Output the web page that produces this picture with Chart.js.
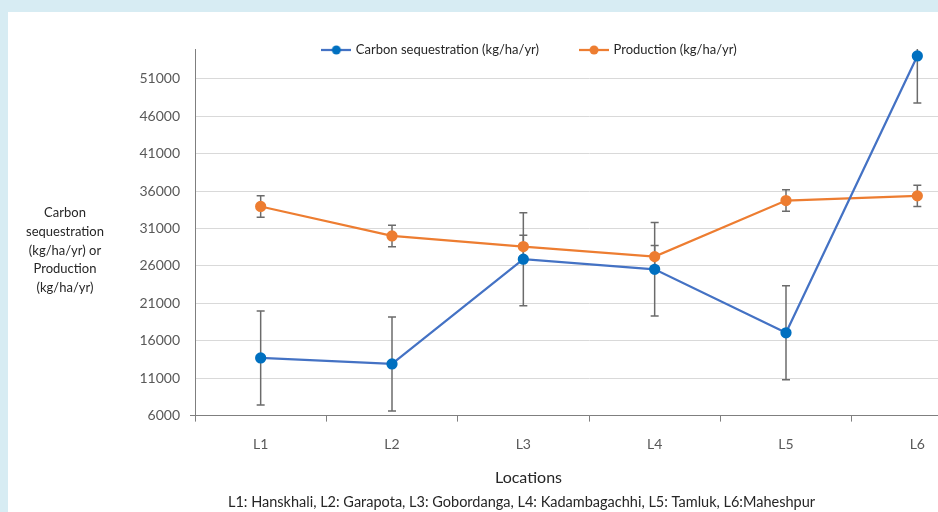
<!DOCTYPE html>
<html><head><meta charset="utf-8">
<script src="https://cdn.jsdelivr.net/npm/chart.js@4.4.1/dist/chart.umd.min.js"></script>
<style>
html,body{margin:0;padding:0;width:938px;height:512px;overflow:hidden;background:#d7ecf3;}
#panel{position:absolute;left:8px;top:12px;width:1100px;height:500px;background:#ffffff;}
#c{position:absolute;left:0;top:0;}
</style></head><body>
<div id="panel"><canvas id="c" width="1048" height="500"></canvas></div>
<script>
const locations = ['L1', 'L2', 'L3', 'L4', 'L5', 'L6'];
const carbonSeq = [13700, 12900, 26900, 25550, 17070, 54070];
const carbonErr = [6280, 6270, 6220, 6250, 6270, 6300];
const production = [33950, 30010, 28590, 27250, 34750, 35370];
const productionErr = [1450, 1430, 1500, 1500, 1450, 1420];
const yTicks = [6000, 11000, 16000, 21000, 26000, 31000, 36000, 41000, 46000, 51000];
const seriesNames = ['Carbon sequestration (kg/ha/yr)', 'Production (kg/ha/yr)'];
const yTitleLines = ['Carbon', 'sequestration', '(kg/ha/yr) or', 'Production', '(kg/ha/yr)'];
const xTitle = 'Locations';
const footnote = 'L1: Hanskhali, L2: Garapota, L3: Gobordanga, L4: Kadambagachhi, L5: Tamluk, L6:Maheshpur';

const BLUE_LINE = '#4472c4', BLUE_DOT = '#0070c0', ORANGE = '#ed7d31';
const AXIS = '#7f7f7f', GRID = '#d9d9d9', TEXT = '#595959', DARK = '#262626';

function makeMarker(lineColor, dotColor) {
  const c = document.createElement('canvas');
  c.width = 30; c.height = 10;
  const g = c.getContext('2d');
  g.strokeStyle = lineColor; g.lineWidth = 2.25;
  g.beginPath(); g.moveTo(0, 5); g.lineTo(30, 5); g.stroke();
  g.fillStyle = dotColor;
  g.beginPath(); g.arc(15, 5, 4.5, 0, Math.PI * 2); g.fill();
  return c;
}

const errorBars = {
  id: 'errorBars',
  beforeDatasetsDraw(chart) {
    const { ctx, chartArea: a, scales: { x, y } } = chart;
    ctx.save();
    ctx.beginPath();
    ctx.rect(a.left, a.top, a.right - a.left, a.bottom - a.top);
    ctx.clip();
    ctx.strokeStyle = '#6b6b6b';
    ctx.lineWidth = 1.5;
    [[carbonSeq, carbonErr], [production, productionErr]].forEach(([vals, errs]) => {
      vals.forEach((v, i) => {
        const px = x.getPixelForValue(i);
        const yt = y.getPixelForValue(v + errs[i]);
        const yb = y.getPixelForValue(v - errs[i]);
        ctx.beginPath();
        ctx.moveTo(px, yt); ctx.lineTo(px, yb);
        ctx.moveTo(px - 4, yt); ctx.lineTo(px + 4, yt);
        ctx.moveTo(px - 4, yb); ctx.lineTo(px + 4, yb);
        ctx.stroke();
      });
    });
    ctx.restore();
  }
};

// legend sits inside the plot's top margin without taking layout space
const legendMover = {
  id: 'legendMover',
  beforeLayout(chart) {
    const l = chart.legend;
    if (l && !l._patched) {
      const origFit = l.fit;
      l.fit = function () { origFit.call(this); this.height = 0; };
      l._patched = true;
    }
  },
  afterLayout(chart) {
    const l = chart.legend;
    if (l) {
      l.left = -2; l.right = 1046; l.width = 1048;
      l.top = -10.5; l.bottom = 100; l.height = 110.5;
    }
    const t = chart.titleBlock;
    if (t) { t.left -= 7; t.right -= 7; }
  }
};

const yTitle = {
  id: 'yTitle',
  afterDraw(chart) {
    const ctx = chart.ctx;
    ctx.save();
    ctx.font = '13px Lato';
    ctx.fillStyle = DARK;
    ctx.textAlign = 'center';
    ctx.textBaseline = 'middle';
    yTitleLines.forEach((t, i) => ctx.fillText(t, 57, 201 + i * 18.7));
    ctx.restore();
  }
};

function draw() {
  const markers = [makeMarker(BLUE_LINE, BLUE_DOT), makeMarker(ORANGE, ORANGE)];
  new Chart(document.getElementById('c'), {
    type: 'line',
    data: {
      labels: locations,
      datasets: [
        { label: seriesNames[0], data: carbonSeq, borderColor: BLUE_LINE, backgroundColor: BLUE_DOT,
          pointBackgroundColor: BLUE_DOT, pointBorderColor: BLUE_DOT, pointRadius: 4.5, borderWidth: 2.25, tension: 0 },
        { label: seriesNames[1], data: production, borderColor: ORANGE, backgroundColor: ORANGE,
          pointBackgroundColor: ORANGE, pointBorderColor: ORANGE, pointRadius: 4.5, borderWidth: 2.25, tension: 0 }
      ]
    },
    options: {
      responsive: false,
      animation: false,
      devicePixelRatio: 1,
      layout: { padding: { left: 66, right: 73, top: 37, bottom: 1 } },
      scales: {
        x: {
          offset: true,
          grid: { offset: true, drawOnChartArea: false, drawTicks: true, tickLength: 6, color: AXIS },
          border: { color: AXIS, width: 1 },
          ticks: { padding: 14, color: TEXT, font: { family: 'Lato', size: 14 } }
        },
        y: {
          min: 6000, max: 55000,
          afterBuildTicks(scale) { scale.ticks = yTicks.map(v => ({ value: v })); },
          afterFit(scale) { scale.width = 121; },
          grid: {
            color: (c) => (c.tick && c.tick.value === 6000) ? AXIS : GRID,
            tickColor: (c) => (c.tick && c.tick.value === 6000) ? AXIS : 'rgba(0,0,0,0)',
            tickLength: 5, lineWidth: 1
          },
          border: { color: AXIS, width: 1 },
          ticks: { padding: 10, color: TEXT, font: { family: 'Lato', size: 14 },
            callback: (v) => String(v) }
        }
      },
      plugins: {
        legend: {
          position: 'top',
          labels: {
            usePointStyle: true, pointStyleWidth: 26, padding: 42,
            color: DARK, font: { family: 'Lato', size: 13 },
            generateLabels(chart) {
              return Chart.defaults.plugins.legend.labels.generateLabels(chart).map((it, i) => {
                it.pointStyle = markers[i]; return it;
              });
            }
          }
        },
        subtitle: { display: true, position: 'bottom', text: xTitle, color: DARK,
          font: { family: 'Lato', size: 16, weight: 'normal' }, padding: { top: 2, bottom: 4 } },
        title: { display: true, position: 'bottom', text: footnote, color: DARK,
          font: { family: 'Lato', size: 14.5, weight: 'normal' }, padding: { top: 2, bottom: 0 } },
        tooltip: { enabled: false }
      }
    },
    plugins: [errorBars, legendMover, yTitle]
  });
}
(document.fonts && document.fonts.load ? Promise.all([document.fonts.load('13px Lato'), document.fonts.load('16px Lato')]) : Promise.resolve()).then(draw, draw);
</script>
</body></html>
